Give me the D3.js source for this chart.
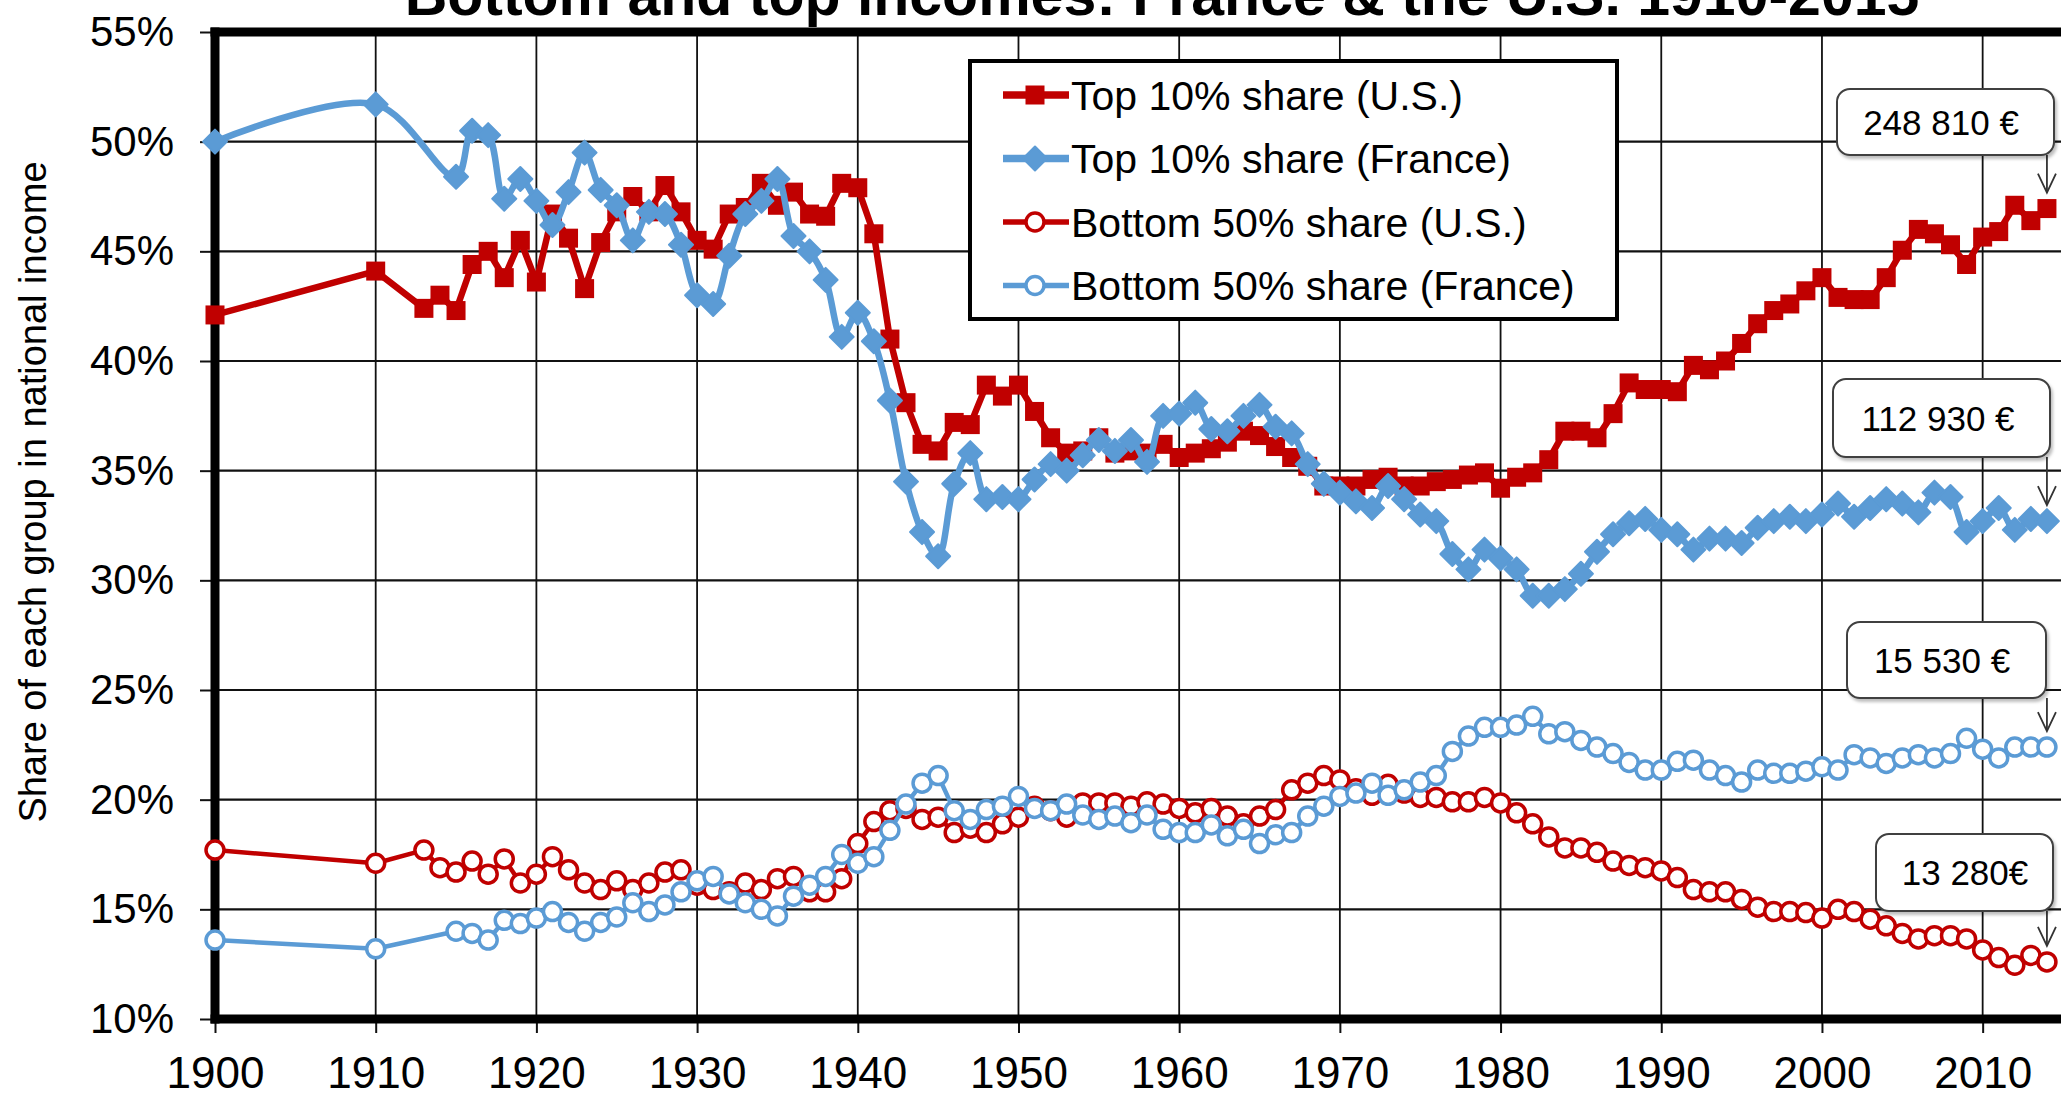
<!DOCTYPE html>
<html>
<head>
<meta charset="utf-8">
<script src="https://cdn.jsdelivr.net/npm/d3@7.9.0/dist/d3.min.js"></script>
<style>
  html, body { margin: 0; padding: 0; background: #fff; }
  svg { display: block; font-family: "Liberation Sans", Arial, sans-serif; }
</style>
</head>
<body>
<svg id="chart" width="2061" height="1094"></svg>
<script>
// === Data ===
const usYears = [1900, 1910, ...d3.range(1913, 2015)];
const frYears = [1900, 1910, ...d3.range(1915, 2015)];

const top10US = [
  42.1, 44.1,
  42.4, 43.0, 42.3, 44.4, 45.0, 43.8, 45.5, 43.6, 46.7, 45.6, 43.3, 45.4, 46.8, 47.5, 46.8,
  48.0, 46.8, 45.5, 45.1, 46.7, 47.0, 48.1, 47.1, 47.7, 46.7, 46.6, 48.1, 47.9, 45.8, 41.0,
  38.1, 36.2, 35.9, 37.2, 37.1, 38.9, 38.4, 38.9, 37.7, 36.5, 35.8, 35.9, 36.5, 35.8, 35.9,
  35.8, 36.2, 35.6, 35.8, 36.0, 36.3, 36.8, 36.6, 36.1, 35.6, 35.2, 34.3, 34.3, 34.3, 34.6,
  34.7, 34.3, 34.3, 34.5, 34.6, 34.8, 34.9, 34.2, 34.7, 34.9, 35.5, 36.8, 36.8, 36.5, 37.6,
  39.0, 38.7, 38.7, 38.6, 39.8, 39.6, 40.0, 40.8, 41.7, 42.3, 42.6, 43.2, 43.8, 42.9, 42.8,
  42.8, 43.8, 45.05, 46.0, 45.8, 45.3, 44.4, 45.65, 45.9, 47.1, 46.4, 46.95
];

const top10FR = [
  50.0, 51.7,
  48.4, 50.5, 50.3, 47.4, 48.3, 47.3, 46.2, 47.7, 49.5, 47.8, 47.1, 45.5, 46.8, 46.7, 45.3,
  43.0, 42.6, 44.8, 46.7, 47.3, 48.3, 45.7, 45.0, 43.7, 41.1, 42.2, 40.9, 38.2, 34.5, 32.2,
  31.1, 34.4, 35.8, 33.7, 33.8, 33.7, 34.6, 35.3, 35.0, 35.7, 36.4, 35.9, 36.4, 35.4, 37.5,
  37.6, 38.1, 36.9, 36.8, 37.5, 38.0, 37.0, 36.7, 35.3, 34.4, 34.0, 33.6, 33.3, 34.3, 33.7,
  33.0, 32.7, 31.2, 30.5, 31.4, 31.0, 30.5, 29.3, 29.3, 29.6, 30.3, 31.3, 32.1, 32.6, 32.8,
  32.3, 32.1, 31.4, 31.9, 31.9, 31.7, 32.4, 32.7, 32.9, 32.7, 33.0, 33.5, 32.9, 33.3, 33.7,
  33.5, 33.1, 34.0, 33.8, 32.2, 32.7, 33.3, 32.3, 32.8, 32.7
];

const bottom50US = [
  17.7, 17.1,
  17.7, 16.9, 16.7, 17.2, 16.6, 17.3, 16.2, 16.6, 17.4, 16.8, 16.2, 15.9, 16.3, 15.9, 16.2,
  16.7, 16.8, 16.1, 15.9, 15.8, 16.2, 15.9, 16.4, 16.5, 15.8, 15.8, 16.4, 18.0, 19.0, 19.5,
  19.6, 19.1, 19.2, 18.5, 18.7, 18.5, 18.9, 19.2, 19.7, 19.5, 19.2, 19.85, 19.85, 19.85, 19.7,
  19.9, 19.8, 19.6, 19.4, 19.6, 19.25, 18.9, 19.25, 19.55, 20.45, 20.75, 21.1, 20.9, 20.5, 20.2,
  20.7, 20.3, 20.1, 20.1, 19.9, 19.9, 20.1, 19.85, 19.4, 18.9, 18.3, 17.8, 17.8, 17.6, 17.2,
  17.0, 16.9, 16.75, 16.45, 15.9, 15.8, 15.8, 15.45, 15.1, 14.9, 14.9, 14.85, 14.6, 15.0, 14.9,
  14.55, 14.25, 13.9, 13.65, 13.8, 13.8, 13.65, 13.15, 12.8, 12.45, 12.9, 12.6
];

const bottom50FR = [
  13.6, 13.2,
  14.0, 13.9, 13.6, 14.5, 14.35, 14.6, 14.9, 14.4, 14.0, 14.4, 14.65, 15.3, 14.9, 15.2, 15.8,
  16.3, 16.5, 15.7, 15.3, 15.0, 14.7, 15.6, 16.1, 16.5, 17.5, 17.1, 17.4, 18.6, 19.8, 20.75,
  21.1, 19.5, 19.1, 19.55, 19.7, 20.15, 19.6, 19.5, 19.8, 19.3, 19.1, 19.25, 18.95, 19.3, 18.65,
  18.5, 18.5, 18.85, 18.35, 18.65, 18.0, 18.4, 18.5, 19.25, 19.7, 20.15, 20.3, 20.75, 20.2, 20.45,
  20.8, 21.1, 22.2, 22.9, 23.3, 23.3, 23.4, 23.8, 23.0, 23.1, 22.7, 22.4, 22.1, 21.7, 21.35,
  21.35, 21.75, 21.8, 21.35, 21.1, 20.8, 21.35, 21.2, 21.2, 21.3, 21.5, 21.35, 22.05, 21.9, 21.65,
  21.9, 22.05, 21.9, 22.1, 22.8, 22.3, 21.9, 22.4, 22.4, 22.4
];

const seriesNames = [
  'Top 10% share (U.S.)',
  'Top 10% share (France)',
  'Bottom 50% share (U.S.)',
  'Bottom 50% share (France)'
];
const yTicks = [10, 15, 20, 25, 30, 35, 40, 45, 50, 55];
const xTicks = [1900, 1910, 1920, 1930, 1940, 1950, 1960, 1970, 1980, 1990, 2000, 2010];
const calloutLabels = ['248 810 €', '112 930 €', '15 530 €', '13 280€'];

const chartTitle = 'Bottom and top incomes: France & the U.S. 1910-2015';
const yTitle = 'Share of each group in national income';

// === Layout ===
const RED = '#C00000';
const BLUE = '#5B9BD5';
const FONT = '"Liberation Sans", Arial, sans-serif';

const svg = d3.select('#chart');
const x = d3.scaleLinear().domain([1900, 2015]).range([215, 2063]);
const y = d3.scaleLinear().domain([10, 55]).range([1019, 32]);

const series = [
  { name: seriesNames[0], years: usYears, values: top10US, color: RED, marker: 'square', width: 6.5, curve: d3.curveLinear },
  { name: seriesNames[1], years: frYears, values: top10FR, color: BLUE, marker: 'diamond', width: 6.5, curve: d3.curveCatmullRom.alpha(0.5) },
  { name: seriesNames[2], years: usYears, values: bottom50US, color: RED, marker: 'circle', width: 4.5, curve: d3.curveLinear },
  { name: seriesNames[3], years: frYears, values: bottom50FR, color: BLUE, marker: 'circle', width: 4.5, curve: d3.curveLinear }
];

svg.append('rect').attr('width', 2061).attr('height', 1094).attr('fill', '#fff');

// gridlines
const grid = svg.append('g');
grid.selectAll('line.h')
  .data(yTicks.filter(d => d > 10 && d < 55))
  .join('line')
  .attr('x1', x(1900)).attr('x2', 2061)
  .attr('y1', d => y(d)).attr('y2', d => y(d))
  .attr('stroke', '#111').attr('stroke-width', 2.2);
grid.selectAll('line.v')
  .data(xTicks.filter(d => d > 1900))
  .join('line')
  .attr('x1', d => x(d)).attr('x2', d => x(d))
  .attr('y1', y(55)).attr('y2', y(10))
  .attr('stroke', '#111').attr('stroke-width', 1.8);

// axes
const yAxis = svg.append('g')
  .attr('transform', `translate(${x(1900)},0)`)
  .call(d3.axisLeft(y).tickValues(yTicks).tickFormat(d => d + '%').tickSize(15).tickPadding(26));
const xAxis = svg.append('g')
  .attr('transform', `translate(0,${y(10)})`)
  .call(d3.axisBottom(x).tickValues(xTicks).tickFormat(d3.format('d')).tickSize(14).tickPadding(24));

[yAxis, xAxis].forEach(g => {
  g.select('.domain').remove();
  g.selectAll('line').attr('stroke', '#111').attr('stroke-width', 2);
  g.selectAll('text').attr('fill', '#000').attr('font-family', FONT);
});
yAxis.selectAll('text').attr('font-size', 42);
xAxis.selectAll('text').attr('font-size', 44);

// frame (thick black lines)
const frame = svg.append('g').attr('stroke', '#000').attr('stroke-width', 9).attr('stroke-linecap', 'square');
frame.append('line').attr('x1', x(1900)).attr('x2', 2070).attr('y1', y(55)).attr('y2', y(55));
frame.append('line').attr('x1', x(1900)).attr('x2', 2070).attr('y1', y(10)).attr('y2', y(10));
frame.append('line').attr('x1', x(1900)).attr('x2', x(1900)).attr('y1', y(55)).attr('y2', y(10));

// markers
function drawMarker(sel, type, color) {
  if (type === 'square') {
    sel.append('rect').attr('x', -9.5).attr('y', -9.5).attr('width', 19).attr('height', 19).attr('fill', color);
  } else if (type === 'diamond') {
    sel.append('path').attr('d', 'M0,-12L12,0L0,12L-12,0Z').attr('fill', color)
      .attr('stroke', color).attr('stroke-width', 2).attr('stroke-linejoin', 'round');
  } else {
    sel.append('circle').attr('r', 9).attr('fill', '#fff').attr('stroke', color).attr('stroke-width', 3.5);
  }
}

// series
series.forEach(s => {
  const pts = s.years.map((yr, i) => [yr, s.values[i]]);
  const line = d3.line().x(d => x(d[0])).y(d => y(d[1])).curve(s.curve);
  const g = svg.append('g');
  g.append('path')
    .attr('d', line(pts))
    .attr('fill', 'none')
    .attr('stroke', s.color)
    .attr('stroke-width', s.width)
    .attr('stroke-linejoin', 'round');
  g.selectAll('g.m')
    .data(pts)
    .join('g')
    .attr('transform', d => `translate(${x(d[0])},${y(d[1])})`)
    .each(function () { drawMarker(d3.select(this), s.marker, s.color); });
});

// legend
const legend = svg.append('g').attr('transform', 'translate(970,61)');
legend.append('rect').attr('width', 647).attr('height', 258)
  .attr('fill', '#fff').attr('stroke', '#000').attr('stroke-width', 4);
series.forEach((s, i) => {
  const row = legend.append('g').attr('transform', `translate(0,${34 + i * 63.5})`);
  row.append('line').attr('x1', 33).attr('x2', 99).attr('y1', 0).attr('y2', 0)
    .attr('stroke', s.color).attr('stroke-width', s.width + 1);
  drawMarker(row.append('g').attr('transform', 'translate(65,0)'), s.marker, s.color);
  row.append('text').attr('x', 101).attr('y', 0).attr('dy', '0.36em')
    .attr('font-size', 41).attr('font-family', FONT).attr('fill', '#000')
    .text(s.name);
});

// callouts pointing at the 2014 values
const defs = svg.append('defs');
const shadow = defs.append('filter').attr('id', 'shadow').attr('x', '-10%').attr('y', '-10%').attr('width', '130%').attr('height', '140%');
shadow.append('feDropShadow').attr('dx', 2).attr('dy', 3).attr('stdDeviation', 1.5).attr('flood-color', '#000').attr('flood-opacity', 0.25);

const calloutBoxes = [
  { x0: 1837, x1: 2054, y0: 89, y1: 155, tx: 1941 },
  { x0: 1833, x1: 2050, y0: 379, y1: 457, tx: 1938 },
  { x0: 1847, x1: 2046, y0: 622, y1: 698, tx: 1942 },
  { x0: 1876, x1: 2053, y0: 834, y1: 911, tx: 1965 }
];
const lastValues = [top10US, top10FR, bottom50FR, bottom50US].map(v => v[v.length - 1]);

calloutBoxes.forEach((b, i) => {
  const ax = x(2014);
  const tip = y(lastValues[i]) - 16;
  const g = svg.append('g');
  g.append('line').attr('x1', ax).attr('x2', ax).attr('y1', b.y1).attr('y2', tip)
    .attr('stroke', '#333').attr('stroke-width', 1.8);
  g.append('path').attr('d', `M${ax - 9},${tip - 19}L${ax},${tip}L${ax + 9},${tip - 19}`)
    .attr('fill', 'none').attr('stroke', '#333').attr('stroke-width', 1.8);
  g.append('rect').attr('x', b.x0).attr('y', b.y0)
    .attr('width', b.x1 - b.x0).attr('height', b.y1 - b.y0)
    .attr('rx', 13).attr('ry', 13)
    .attr('fill', '#fff').attr('stroke', '#404040').attr('stroke-width', 2)
    .attr('filter', 'url(#shadow)');
  g.append('text').attr('x', b.tx).attr('y', (b.y0 + b.y1) / 2).attr('dy', '0.36em')
    .attr('text-anchor', 'middle').attr('font-size', 35).attr('font-family', FONT)
    .attr('fill', '#000').text(calloutLabels[i]);
});

// titles
svg.append('text').attr('x', 1162).attr('y', 15).attr('text-anchor', 'middle')
  .attr('font-size', 59).attr('font-weight', 'bold').attr('font-family', FONT)
  .attr('fill', '#000').text(chartTitle);

svg.append('text')
  .attr('transform', 'translate(46,492) rotate(-90)')
  .attr('text-anchor', 'middle')
  .attr('font-size', 38).attr('font-family', FONT).attr('fill', '#000')
  .text(yTitle);
</script>
</body>
</html>
